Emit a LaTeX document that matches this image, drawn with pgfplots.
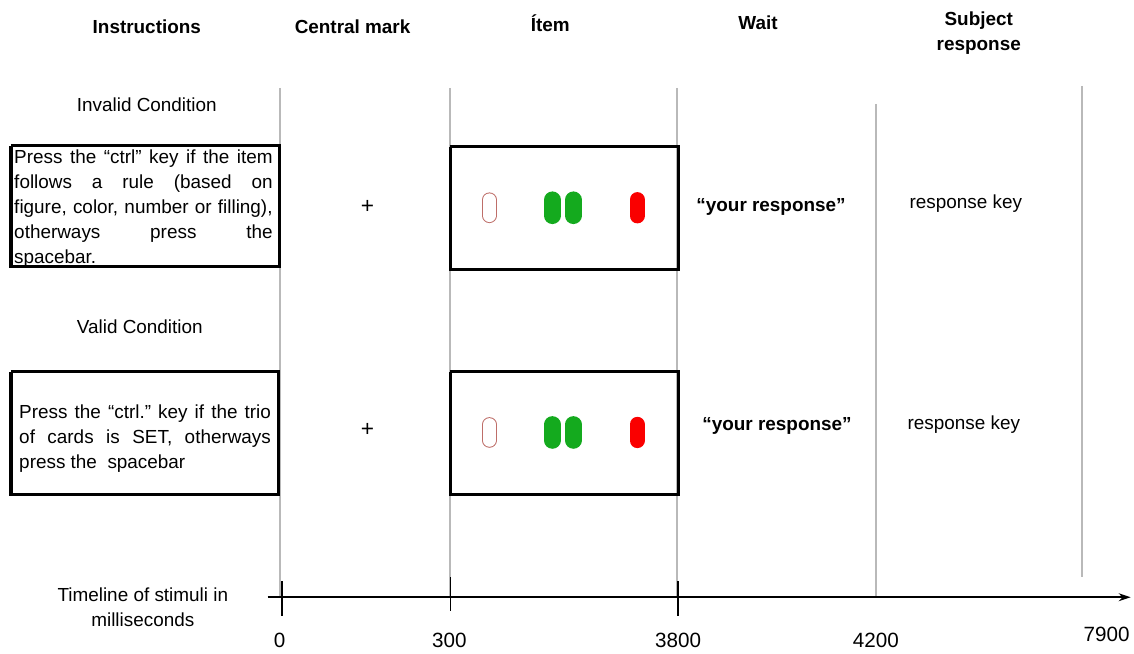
\documentclass[border=0pt]{standalone}
\usepackage{fontspec}
\setmainfont{Liberation Sans}
\usepackage{pgfplots}
\pgfplotsset{compat=1.18}
\usetikzlibrary{arrows.meta}
\definecolor{divgray}{RGB}{185,185,185}
\definecolor{cardgreen}{RGB}{20,170,30}
\definecolor{cardred}{RGB}{250,0,0}
\definecolor{cardline}{RGB}{190,110,105}
\newcommand{\bodyfont}{\fontsize{14.2}{18.75}\selectfont}
\frenchspacing
\begin{document}
\begin{tikzpicture}
\begin{axis}[
    width=850.5pt, height=490.5pt, scale only axis,
    xmin=0, xmax=1134, ymin=0, ymax=654, y dir=reverse,
    hide axis, clip=false,
]
% keeps the picture at the full size
\addplot[draw=none] coordinates {(0,0) (1134,654)};

% grey separators between the phases
\addplot[divgray, line width=1.5pt] coordinates {(280,88) (280,598)};
\addplot[divgray, line width=1.5pt] coordinates {(451,88) (451,598)};
\addplot[divgray, line width=1.5pt] coordinates {(678,88) (678,598)};
\addplot[divgray, line width=1.5pt] coordinates {(877,104) (877,598)};
\addplot[divgray, line width=1.5pt] coordinates {(1083,86) (1083,578)};

% timeline
\addplot[black, line width=1.3pt, -{Stealth[length=9pt,width=6pt]}] coordinates {(268,598) (1132,598)};
\addplot[black, line width=1.3pt] coordinates {(282,582) (282,617)};
\addplot[black, line width=1.3pt] coordinates {(451,578) (451,612)};
\addplot[black, line width=1.3pt] coordinates {(679,582) (679,617)};

% instruction boxes
\addplot[black, line width=2.4pt] coordinates {(11,146) (280,146) (280,267) (11,267) (11,146)};
\addplot[black, line width=2.4pt] coordinates {(11,372) (279,372) (279,495) (11,495) (11,372)};
% item boxes
\addplot[black, line width=2.4pt] coordinates {(451,147) (679,147) (679,270) (451,270) (451,147)};
\addplot[black, line width=2.4pt] coordinates {(451,372) (679,372) (679,495) (451,495) (451,372)};

% cards, top row
\addplot[cardline, line width=11pt, line cap=round] coordinates {(490,200) (490,216)};
\addplot[white, line width=9.5pt, line cap=round] coordinates {(490,200) (490,216)};
\addplot[cardgreen, line width=12.5pt, line cap=round] coordinates {(553,200) (553,216)};
\addplot[cardgreen, line width=12.5pt, line cap=round] coordinates {(574,200) (574,216)};
\addplot[cardred, line width=11.5pt, line cap=round] coordinates {(638,200) (638,216)};
% cards, bottom row
\addplot[cardline, line width=11pt, line cap=round] coordinates {(490,425) (490,441)};
\addplot[white, line width=9.5pt, line cap=round] coordinates {(490,425) (490,441)};
\addplot[cardgreen, line width=12.5pt, line cap=round] coordinates {(553,425) (553,441)};
\addplot[cardgreen, line width=12.5pt, line cap=round] coordinates {(574,425) (574,441)};
\addplot[cardred, line width=11.5pt, line cap=round] coordinates {(638,425) (638,441)};

% column headers
\node[font=\bodyfont\bfseries] at (axis cs:147,27) {Instructions};
\node[font=\bodyfont\bfseries] at (axis cs:353,27) {Central mark};
\node[font=\bodyfont\bfseries] at (axis cs:551,23) {Ítem};
\node[font=\bodyfont\bfseries] at (axis cs:759,23) {Wait};
\node[font=\bodyfont\bfseries, align=center, text depth=0pt] at (axis cs:980,31) {Subject\\response};

\node[font=\bodyfont] at (axis cs:147,105) {Invalid Condition};
\node[font=\bodyfont] at (axis cs:140,327) {Valid Condition};

\node[font=\bodyfont, text width=194pt, align=justify, inner sep=0pt, anchor=north west] at (axis cs:14,150)
  {\hyphenpenalty=10000 Press the “ctrl” key if the item\linebreak follows a rule (based on\linebreak figure, color, number or filling),\linebreak otherways press the\linebreak spacebar.};
\node[font=\bodyfont, text width=189pt, align=justify, inner sep=0pt, anchor=north west] at (axis cs:19,405)
  {\hyphenpenalty=10000 Press the “ctrl.” key if the trio\linebreak of cards is SET, otherways\linebreak press the\ \ spacebar};

\node[font=\fontsize{17}{20}\selectfont] at (axis cs:368,207) {+};
\node[font=\fontsize{17}{20}\selectfont] at (axis cs:368,430) {+};

\node[font=\bodyfont\bfseries] at (axis cs:772,207) {“your response”};
\node[font=\bodyfont\bfseries] at (axis cs:778,426) {“your response”};
\node[font=\bodyfont] at (axis cs:967,204) {response key};
\node[font=\bodyfont] at (axis cs:965,425) {response key};

% timeline labels
\node[font=\bodyfont, align=center] at (axis cs:143,608) {Timeline of stimuli in\\milliseconds};
\node[font=\fontsize{15.5}{18}\selectfont] at (axis cs:280,641) {0};
\node[font=\fontsize{15.5}{18}\selectfont] at (axis cs:450,641) {300};
\node[font=\fontsize{15.5}{18}\selectfont] at (axis cs:679,641) {3800};
\node[font=\fontsize{15.5}{18}\selectfont] at (axis cs:877,641) {4200};
\node[font=\fontsize{15.5}{18}\selectfont] at (axis cs:1108,635) {7900};
\end{axis}
\end{tikzpicture}
\end{document}
